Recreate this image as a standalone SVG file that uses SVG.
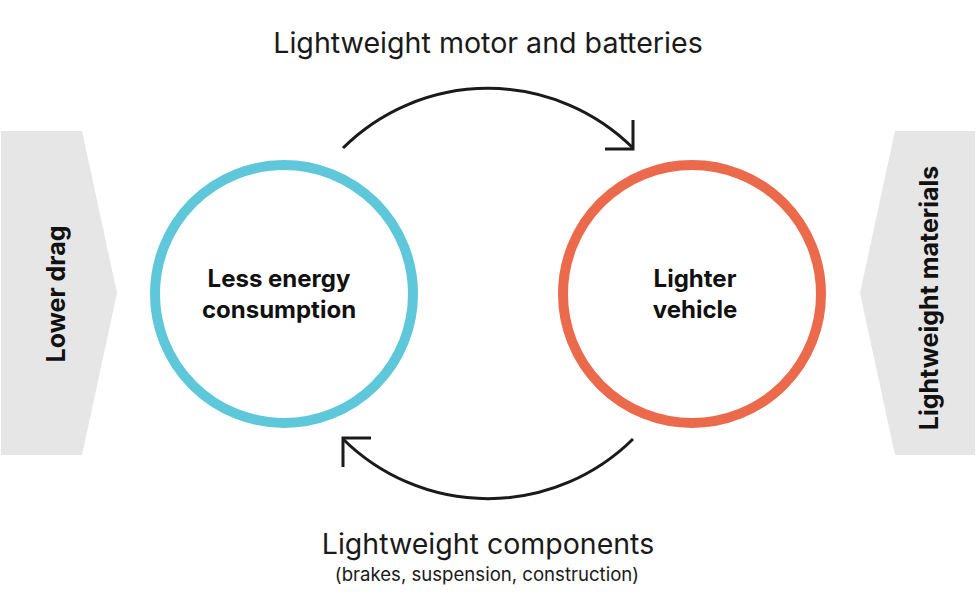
<svg xmlns="http://www.w3.org/2000/svg" width="976" height="594" viewBox="0 0 976 594">
<style>
.side{fill:#e6e6e6}
.ring{fill:none;stroke-width:10}
.conn{fill:none;stroke:#1a1a1a;stroke-width:3}
.lbl{font-family:Inter,"Liberation Sans",sans-serif;fill:#1a1a1a;text-anchor:middle}
.node{font-family:Inter,"Liberation Sans",sans-serif;font-weight:700;font-size:24px;fill:#111;text-anchor:middle}
.sidet{font-family:Inter,"Liberation Sans",sans-serif;font-weight:700;font-size:25px;fill:#111;text-anchor:middle}
</style>
<rect width="976" height="594" fill="#fff"/>
<g id="lower-drag">
<polygon class="side" points="1,131 82,131 117,293 82,455 1,455"/>
<text class="sidet" transform="translate(56,294) rotate(-90)" dy="9">Lower drag</text>
</g>
<g id="lightweight-materials">
<polygon class="side" points="975,131 895,131 860,293 895,455 975,455"/>
<text class="sidet" transform="translate(929,298) rotate(-90)" dy="9">Lightweight materials</text>
</g>
<g id="less-energy">
<circle class="ring" cx="284" cy="294" r="129" stroke="#5ec8da"/>
<text class="node" x="279" y="287">Less energy</text>
<text class="node" x="279" y="318">consumption</text>
</g>
<g id="lighter-vehicle">
<circle class="ring" cx="692" cy="294" r="129" stroke="#ec6a4c"/>
<text class="node" x="695" y="287">Lighter</text>
<text class="node" x="695" y="318">vehicle</text>
</g>
<g id="connectors">
<path class="conn" d="M343,148 A206,206 0 0 1 633,148"/>
<path class="conn" d="M605,149 H633 V120"/>
<path class="conn" d="M633,439 A206,206 0 0 1 343,439"/>
<path class="conn" d="M371,438 H343 V467"/>
</g>
<text class="lbl" x="488" y="53" font-size="28.6">Lightweight motor and batteries</text>
<text class="lbl" x="488" y="554" font-size="28.5">Lightweight components</text>
<text class="lbl" x="487" y="581" font-size="18.6">(brakes, suspension, construction)</text>
</svg>
